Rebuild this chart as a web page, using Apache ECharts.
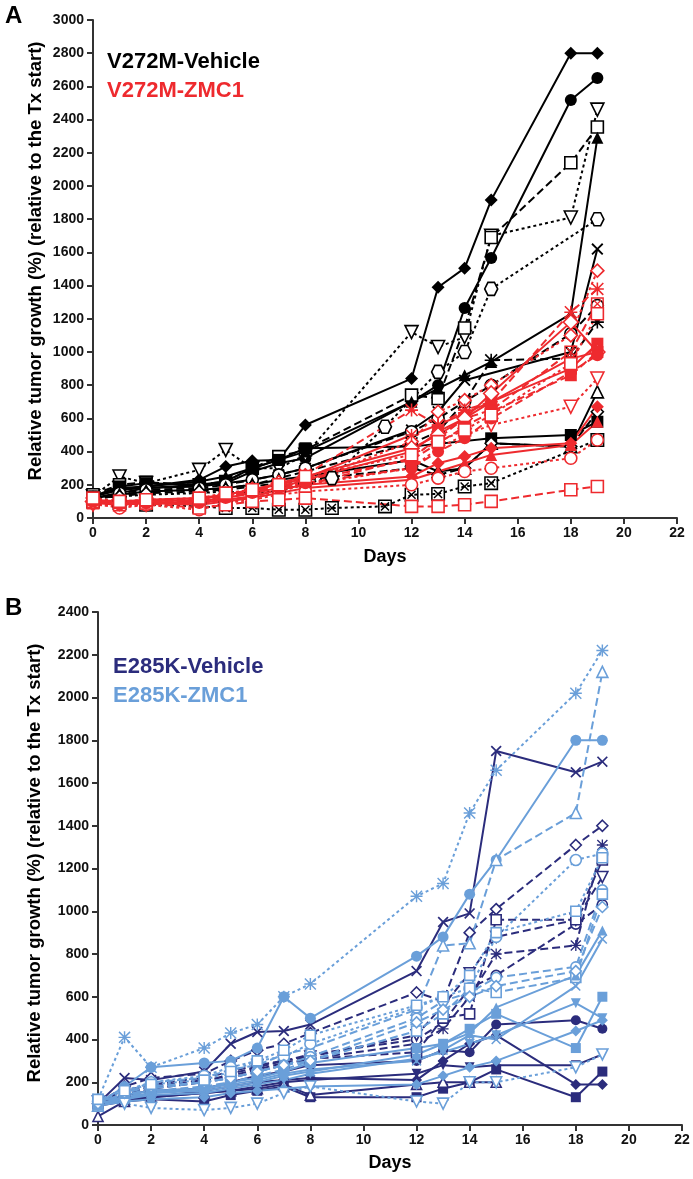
<!DOCTYPE html>
<html><head><meta charset="utf-8">
<script src="https://cdn.jsdelivr.net/npm/echarts/dist/echarts.min.js"></script>
<style>html,body{margin:0;padding:0;background:#fff}#c{width:693px;height:1179px}</style>
</head><body><div id="c"></div>
<script>
// ---------- DATA ----------
const daysA = [0,1,2,4,5,6,7,8,9,11,12,13,14,15,18,19];
const daysB = [0,1,2,4,5,6,7,8,12,13,14,15,18,19];
const yTicksA = {min:0, max:3000, step:200};
const yTicksB = {min:0, max:2400, step:200};
const xTicks = {min:0, max:22, step:2};

// Panel A – V272M-Vehicle
const aV1 = [130,180,190,230,310,345,350,560,null,null,840,1390,1505,1915,2800,2800];
const aV2 = [130,170,180,200,210,280,330,360,null,null,700,800,1265,1566,2518,2650];
const aV3 = [130,250,210,290,410,300,300,380,null,null,1120,1030,1090,1700,1810,2460];
const aV4 = [140,200,215,200,220,300,370,410,null,null,740,720,1145,1690,2140,2355];
const aV5 = [130,170,190,220,250,300,350,400,null,null,700,780,860,940,1230,2290];
const aV6 = [120,130,140,150,160,150,160,210,240,550,null,880,1000,1380,null,1800];
const aV7 = [120,150,180,190,210,230,260,300,null,null,530,640,830,null,1000,1620];
const aV8 = [110,140,160,170,180,200,240,280,null,null,450,520,700,950,960,1180];
const aV9 = [130,190,210,200,220,300,350,420,null,null,430,null,null,480,500,580];
const aV10 = [100,90,80,70,60,60,50,50,60,70,140,145,190,210,null,470];
const aV11 = [120,150,170,180,200,230,260,300,null,null,520,600,700,800,1110,1280];
const aV12 = [120,140,160,170,180,200,230,250,null,null,350,280,300,450,430,760];
const aV13 = [120,130,150,160,170,190,210,230,null,null,300,260,300,450,430,640];
// Panel A – V272M-ZMC1
const aZ1 = [90,80,90,100,130,150,180,220,null,null,460,640,710,800,1100,1490];
const aZ2 = [100,90,100,110,130,160,200,260,null,null,650,560,650,700,1240,1380];
const aZ3 = [90,80,90,90,110,130,170,200,null,null,360,480,600,650,1000,1290];
const aZ4 = [100,80,90,100,120,150,180,230,null,null,400,520,600,700,900,1050];
const aZ5 = [80,70,80,90,100,130,160,200,null,null,300,420,500,560,670,840];
const aZ6 = [100,90,90,90,110,130,170,200,null,null,250,330,370,420,450,670];
const aZ7 = [90,80,90,80,100,120,150,180,null,null,230,280,330,380,440,580];
const aZ8 = [90,60,80,50,90,110,140,160,null,null,200,240,280,300,360,470];
const aZ9 = [100,80,90,60,80,100,110,120,null,null,70,70,80,100,170,190];
const aZ10 = [110,100,110,120,140,170,200,240,null,null,500,560,630,700,960,1000];
const aZ11 = [100,90,100,110,140,170,210,250,null,null,420,500,600,750,1180,1000];
const aZ12 = [110,90,100,110,130,160,190,230,null,null,350,450,550,640,860,1000];
const aZ13 = [100,80,90,90,120,150,180,210,null,null,300,400,480,600,880,980];
const aZ14 = [120,100,110,120,150,170,200,250,null,null,380,460,530,620,930,1230];

// Panel B – E285K-Vehicle
const bV1 = [100,220,210,250,380,435,440,470,720,950,990,1750,1650,1700];
const bV2 = [100,180,220,240,300,350,380,430,620,580,900,1010,1310,1400];
const bV3 = [90,130,170,200,220,250,280,310,380,450,600,800,840,1310];
const bV4 = [100,140,180,200,240,270,300,330,400,480,640,700,940,1030];
const bV5 = [110,160,190,220,250,280,300,320,420,560,710,880,960,1160];
const bV6 = [100,150,180,210,230,260,290,310,340,500,520,960,960,1240];
const bV7 = [100,140,160,170,200,230,250,280,300,350,340,470,490,450];
const bV8 = [100,120,130,160,180,200,210,220,210,300,380,420,190,190];
const bV9 = [90,110,120,110,140,160,180,130,130,170,200,260,130,250];
const bV10 = [100,110,130,150,160,180,200,210,240,280,270,280,280,330];
const bV11 = [40,110,130,150,160,170,190,140,190,200,200,200,null,null];
// Panel B – E285K-ZMC1
const bZ1 = [120,410,270,360,430,470,600,660,1070,1130,1460,1660,2020,2220];
const bZ2 = [100,180,270,290,300,360,600,500,790,880,1080,1240,1800,1800];
const bZ3 = [90,150,200,220,260,280,330,360,540,840,850,1240,1460,2120];
const bZ4 = [110,160,200,230,270,300,320,380,550,600,640,880,1240,1270];
const bZ5 = [100,140,170,200,220,250,280,320,500,580,620,690,740,1100];
const bZ6 = [100,130,160,180,200,230,260,300,440,520,640,620,690,1080];
const bZ7 = [90,120,150,160,180,200,230,250,330,380,430,550,700,910];
const bZ8 = [100,130,150,170,190,210,240,260,300,350,420,400,650,870];
const bZ9 = [110,140,160,170,200,220,250,290,360,380,450,520,360,600];
const bZ10 = [100,120,140,150,170,190,210,240,310,340,380,420,570,500];
const bZ11 = [90,110,120,130,150,160,170,180,190,230,270,300,440,490];
const bZ12 = [110,100,80,70,80,100,150,180,110,100,200,200,270,330];
const bZ13 = [100,150,180,200,220,250,280,300,480,540,600,650,720,1020];
const bZ14 = [120,160,190,210,250,300,350,420,560,600,700,900,1000,1250];

// ---------- STYLE ----------
const FONT = '"Liberation Sans", Arial, sans-serif';
const COL = {black:'#000000', red:'#EE2A2E', navy:'#2B2C7C', light:'#6A9FD9'};
const P_X = 'path://M0,2.2L2.2,0L10,7.8L17.8,0L20,2.2L12.2,10L20,17.8L17.8,20L10,12.2L2.2,20L0,17.8L7.8,10Z';
const P_AST = 'path://M8.8,0H11.2V20H8.8Z M0,8.8H20V11.2H0Z M1.7,0L20,18.3L18.3,20L0,1.7Z M18.3,0L20,1.7L1.7,20L0,18.3Z';
const P_BOXX = 'path://M0,0H20V20H0Z M2.2,2.2V17.8H17.8V2.2Z M3.5,5L5,3.5L16.5,15L15,16.5Z M15,3.5L16.5,5L5,16.5L3.5,15Z';
const P_HEX = 'path://M5,0H15L20,8.66L15,17.32H5L0,8.66Z';
const SYM = {
  dia:{s:'diamond',open:false}, odia:{s:'diamond',open:true},
  cir:{s:'circle',open:false}, ocir:{s:'circle',open:true},
  sq:{s:'rect',open:false}, osq:{s:'rect',open:true},
  tri:{s:'triangle',open:false}, otri:{s:'triangle',open:true},
  dtri:{s:'triangle',open:false,rot:180}, odtri:{s:'triangle',open:true,rot:180},
  x:{s:P_X,open:false}, ast:{s:P_AST,open:false}, boxx:{s:P_BOXX,open:false},
  hex:{s:P_HEX,open:true}
};
const DASH = {solid:'solid', dashed:[8,4], dotted:[3,3]};

function mk(g, days, vals, color, sym, dash, size) {
  const sd = SYM[sym];
  const data = [];
  days.forEach((d,i)=>{ if (vals[i] != null) data.push([d, vals[i]]); });
  return {
    type:'line', xAxisIndex:g, yAxisIndex:g, data, clip:false,
    symbol: sd.s, symbolSize: size, symbolRotate: sd.rot || 0,
    showAllSymbol:true, animation:false,
    lineStyle:{color, width:2, type: DASH[dash]},
    itemStyle: sd.open ? {color:'#fff', borderColor:color, borderWidth:1.6}
                       : {color, borderWidth:0}
  };
}

const series = [
  mk(0,daysA,aV1,COL.black,'dia','solid',13),
  mk(0,daysA,aV2,COL.black,'cir','solid',12),
  mk(0,daysA,aV3,COL.black,'odtri','dotted',13),
  mk(0,daysA,aV4,COL.black,'osq','dashed',12),
  mk(0,daysA,aV5,COL.black,'tri','solid',12),
  mk(0,daysA,aV6,COL.black,'hex','dotted',13),
  mk(0,daysA,aV7,COL.black,'x','solid',12),
  mk(0,daysA,aV8,COL.black,'ast','dashed',13),
  mk(0,daysA,aV9,COL.black,'sq','solid',12),
  mk(0,daysA,aV10,COL.black,'boxx','dotted',14),
  mk(0,daysA,aV11,COL.black,'ocir','dashed',12),
  mk(0,daysA,aV12,COL.black,'otri','solid',12),
  mk(0,daysA,aV13,COL.black,'odia','dashed',12),
  mk(0,daysA,aZ1,COL.red,'odia','dotted',13),
  mk(0,daysA,aZ2,COL.red,'ast','dashed',13),
  mk(0,daysA,aZ3,COL.red,'boxx','dashed',13),
  mk(0,daysA,aZ4,COL.red,'sq','solid',12),
  mk(0,daysA,aZ5,COL.red,'odtri','dotted',13),
  mk(0,daysA,aZ6,COL.red,'dia','solid',13),
  mk(0,daysA,aZ7,COL.red,'tri','solid',12),
  mk(0,daysA,aZ8,COL.red,'ocir','dotted',12),
  mk(0,daysA,aZ9,COL.red,'osq','dashed',12),
  mk(0,daysA,aZ10,COL.red,'ast','solid',12),
  mk(0,daysA,aZ11,COL.red,'odia','solid',15),
  mk(0,daysA,aZ12,COL.red,'sq','dashed',12),
  mk(0,daysA,aZ13,COL.red,'cir','dashed',12),
  mk(0,daysA,aZ14,COL.red,'osq','dotted',12),

  mk(1,daysB,bV1,COL.navy,'x','solid',11),
  mk(1,daysB,bV2,COL.navy,'odia','dashed',11),
  mk(1,daysB,bV3,COL.navy,'ast','dashed',11),
  mk(1,daysB,bV4,COL.navy,'ocir','dashed',10),
  mk(1,daysB,bV5,COL.navy,'odtri','dashed',11),
  mk(1,daysB,bV6,COL.navy,'osq','dashed',10),
  mk(1,daysB,bV7,COL.navy,'cir','solid',10),
  mk(1,daysB,bV8,COL.navy,'dia','solid',11),
  mk(1,daysB,bV9,COL.navy,'sq','solid',10),
  mk(1,daysB,bV10,COL.navy,'dtri','solid',10),
  mk(1,daysB,bV11,COL.navy,'otri','solid',10),
  mk(1,daysB,bZ1,COL.light,'ast','dotted',12),
  mk(1,daysB,bZ2,COL.light,'cir','solid',11),
  mk(1,daysB,bZ3,COL.light,'otri','dashed',11),
  mk(1,daysB,bZ4,COL.light,'ocir','dotted',11),
  mk(1,daysB,bZ5,COL.light,'ocir','dashed',10),
  mk(1,daysB,bZ6,COL.light,'osq','dashed',10),
  mk(1,daysB,bZ7,COL.light,'tri','solid',10),
  mk(1,daysB,bZ8,COL.light,'x','solid',10),
  mk(1,daysB,bZ9,COL.light,'sq','solid',10),
  mk(1,daysB,bZ10,COL.light,'dtri','solid',10),
  mk(1,daysB,bZ11,COL.light,'dia','solid',11),
  mk(1,daysB,bZ12,COL.light,'odtri','dotted',11),
  mk(1,daysB,bZ13,COL.light,'odia','dashed',11),
  mk(1,daysB,bZ14,COL.light,'osq','dotted',10)
];

function xAx(g){
  return {gridIndex:g, type:'value', min:xTicks.min, max:xTicks.max, interval:xTicks.step,
    axisLine:{show:true, lineStyle:{color:'#333', width:2}},
    axisTick:{show:true, length:6, lineStyle:{color:'#333', width:2}},
    axisLabel:{fontSize:14, fontWeight:'bold', color:'#111', fontFamily:FONT, margin:8, formatter: v => String(v)},
    splitLine:{show:false}};
}
function yAx(g, t){
  return {gridIndex:g, type:'value', min:t.min, max:t.max, interval:t.step,
    axisLine:{show:true, lineStyle:{color:'#333', width:2}},
    axisTick:{show:true, length:6, lineStyle:{color:'#333', width:2}},
    axisLabel:{fontSize:14, fontWeight:'bold', color:'#111', fontFamily:FONT, margin:9, formatter: v => String(v)},
    splitLine:{show:false}};
}
function txt(x, y, text, size, color, rot){
  return {type:'text', x, y, rotation: rot||0, silent:true,
    style:{text, fill:color, font:'bold '+size+'px '+FONT, textAlign: rot ? 'center':'left', textVerticalAlign:'middle'}};
}
const ytitle = 'Relative tumor growth (%) (relative to the Tx start)';

const chart = echarts.init(document.getElementById('c'), null, {renderer:'canvas'});
chart.setOption({
  backgroundColor:'#fff',
  animation:false,
  grid:[
    {left:93, top:20, width:584, height:498},
    {left:98, top:612, width:584, height:513}
  ],
  xAxis:[xAx(0), xAx(1)],
  yAxis:[yAx(0,yTicksA), yAx(1,yTicksB)],
  series,
  graphic:[
    txt(5, 16, 'A', 24, '#000'),
    txt(5, 608, 'B', 24, '#000'),
    txt(107, 62, 'V272M-Vehicle', 22, COL.black),
    txt(107, 91, 'V272M-ZMC1', 22, COL.red),
    txt(113, 667, 'E285K-Vehicle', 22, COL.navy),
    txt(113, 696, 'E285K-ZMC1', 22, COL.light),
    txt(36, 261, ytitle, 18.5, '#000', Math.PI/2),
    txt(35, 863, ytitle, 18.5, '#000', Math.PI/2),
    {type:'text', x:385, y:557, silent:true, style:{text:'Days', fill:'#000', font:'bold 18px '+FONT, textAlign:'center', textVerticalAlign:'middle'}},
    {type:'text', x:390, y:1163, silent:true, style:{text:'Days', fill:'#000', font:'bold 18px '+FONT, textAlign:'center', textVerticalAlign:'middle'}}
  ]
});
</script></body></html>
